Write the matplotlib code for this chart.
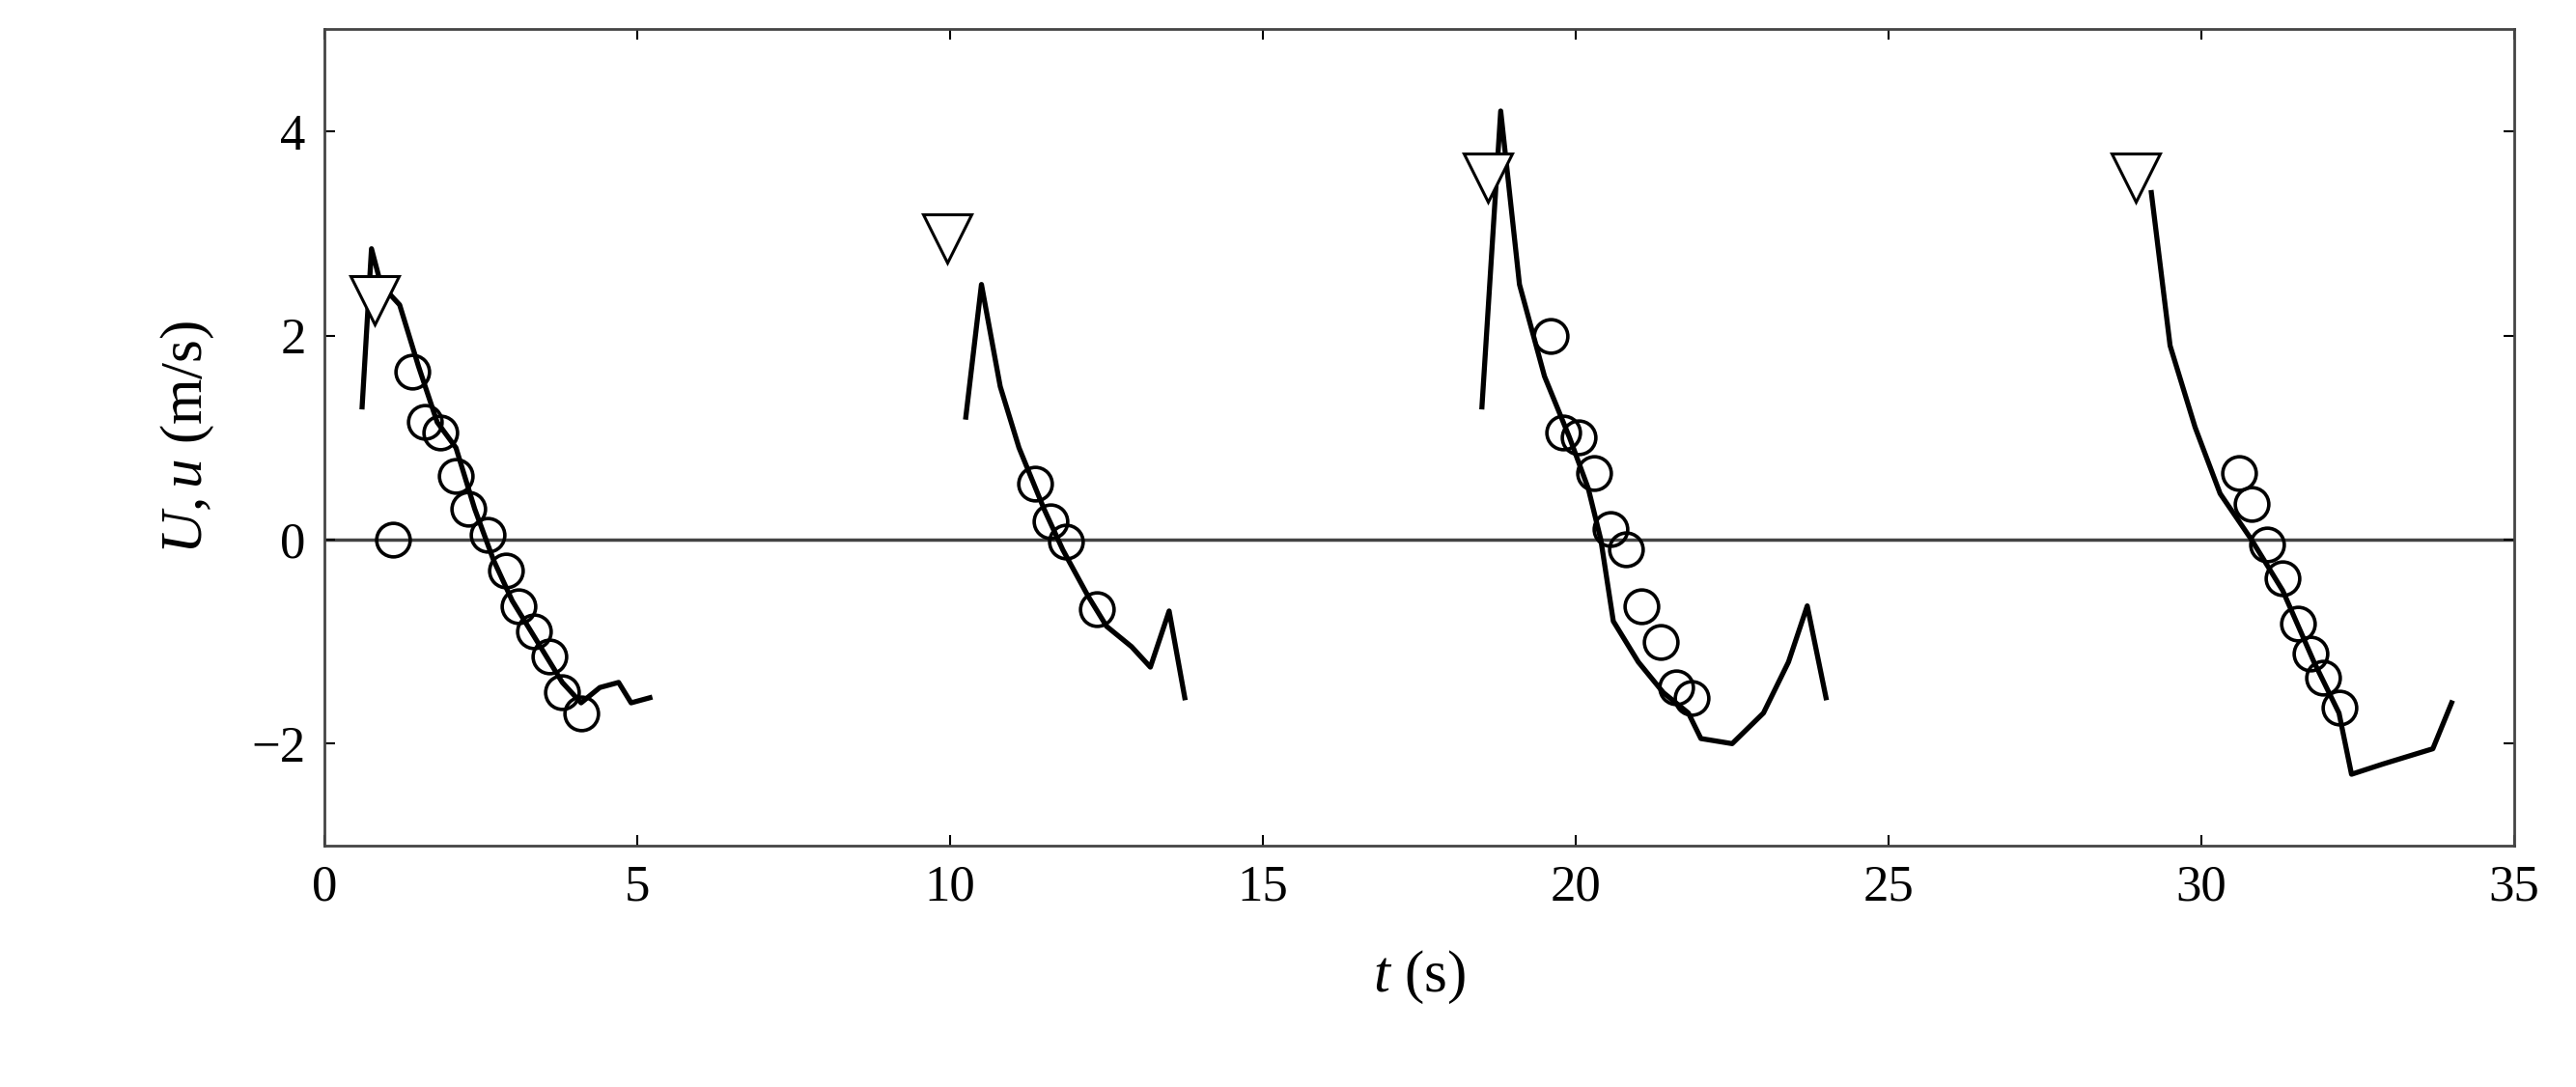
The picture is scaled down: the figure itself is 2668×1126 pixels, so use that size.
import matplotlib
matplotlib.use("Agg")
import matplotlib.pyplot as plt

plt.rcParams['font.family'] = ['Liberation Serif', 'DejaVu Serif']
plt.rcParams['mathtext.fontset'] = 'custom'
plt.rcParams['mathtext.it'] = 'Liberation Serif:italic'
plt.rcParams['mathtext.rm'] = 'Liberation Serif'

# model lines
l1_t = [0.6, 0.75, 0.9, 1.2, 1.5, 1.8, 2.1, 2.4, 2.7, 3.0, 3.4, 3.8, 4.1, 4.4, 4.7, 4.9, 5.2]
l1_u = [1.3, 2.85, 2.5, 2.3, 1.7, 1.15, 0.9, 0.3, -0.2, -0.6, -1.0, -1.4, -1.6, -1.45, -1.4, -1.6, -1.55]
l2_t = [10.25, 10.5, 10.8, 11.1, 11.5, 11.8, 12.2, 12.5, 12.9, 13.2, 13.5, 13.75]
l2_u = [1.2, 2.5, 1.5, 0.9, 0.3, -0.1, -0.55, -0.85, -1.05, -1.25, -0.7, -1.55]
l3_t = [18.5, 18.8, 19.1, 19.5, 19.9, 20.2, 20.4, 20.6, 21.0, 21.4, 21.8, 22.0, 22.5, 23.0, 23.4, 23.7, 24.0]
l3_u = [1.3, 4.2, 2.5, 1.6, 1.0, 0.5, 0.0, -0.8, -1.2, -1.5, -1.7, -1.95, -2.0, -1.7, -1.2, -0.65, -1.55]
l4_t = [29.2, 29.5, 29.9, 30.3, 30.8, 31.3, 31.8, 32.2, 32.4, 32.9, 33.7, 34.0]
l4_u = [3.4, 1.9, 1.1, 0.45, 0.0, -0.5, -1.2, -1.7, -2.3, -2.2, -2.05, -1.6]

# measured points
c_t = [1.1, 1.4, 1.6, 1.85, 2.1, 2.3, 2.6, 2.9, 3.1, 3.35, 3.6, 3.8, 4.1,
       11.35, 11.6, 11.85, 12.35,
       19.6, 19.8, 20.05, 20.3, 20.55, 20.8, 21.05, 21.35, 21.6, 21.85,
       30.6, 30.8, 31.05, 31.3, 31.55, 31.75, 31.95, 32.2]
c_u = [0.0, 1.65, 1.15, 1.05, 0.62, 0.3, 0.05, -0.3, -0.65, -0.9, -1.15, -1.5, -1.7,
       0.55, 0.18, -0.02, -0.68,
       2.0, 1.05, 1.0, 0.65, 0.1, -0.1, -0.65, -1.0, -1.45, -1.55,
       0.65, 0.35, -0.05, -0.38, -0.82, -1.12, -1.35, -1.65]

tri_t = [0.8, 9.95, 18.6, 28.95]
tri_u = [2.35, 2.95, 3.55, 3.55]

fig = plt.figure(figsize=(26.68, 11.26), dpi=100)
ax = fig.add_axes([0.126, 0.222, 0.850, 0.751])
ax.axhline(0, color='#444444', lw=2.5, zorder=1)
for t, u in [(l1_t, l1_u), (l2_t, l2_u), (l3_t, l3_u), (l4_t, l4_u)]:
    ax.plot(t, u, color='black', lw=3.8, zorder=2)
ax.plot(c_t, c_u, 'o', mfc='none', mec='black', ms=25, mew=2.6, zorder=3)
ax.plot(tri_t, tri_u, 'v', mfc='white', mec='black', ms=36, mew=2.2, zorder=4)

ax.set_xlim(0, 35)
ax.set_ylim(-3, 5)
ax.set_xticks([0, 5, 10, 15, 20, 25, 30, 35])
ax.set_yticks([-2, 0, 2, 4])
ax.set_yticklabels(['\u22122', '0', '2', '4'])
ax.tick_params(labelsize=38, direction='in', length=8, width=1.5, top=True, right=True, pad=14)
for s in ax.spines.values():
    s.set_linewidth(2)
    s.set_color('#444444')
ax.set_xlabel(r'$t$ (s)', fontsize=44, labelpad=28)
ax.set_ylabel(r'$U, u$ (m/s)', fontsize=44, labelpad=26)
fig.savefig('out.png', dpi=100)
